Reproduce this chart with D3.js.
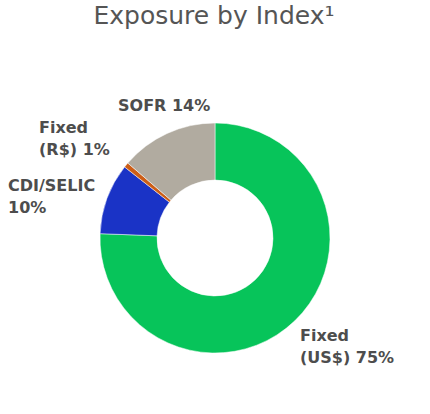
<!DOCTYPE html>
<html>
<head>
<meta charset="utf-8">
<script src="https://cdnjs.cloudflare.com/ajax/libs/d3/7.8.5/d3.min.js"></script>
<style>
body { margin: 0; background: #fff; }
.title { font: 25px "DejaVu Sans", sans-serif; fill: #555; }
.label { font: bold 16px "DejaVu Sans", sans-serif; fill: #4d4d4d; }
</style>
</head>
<body>
<div id="chart"></div>
<script>
// slice data, clockwise from 12 o'clock
var categories = ["Fixed (US$)", "CDI/SELIC", "Fixed (R$)", "SOFR"];
var values     = [75.6, 10.0, 0.7, 13.7];
var labelLines = [["Fixed", "(US$) 75%"], ["CDI/SELIC", "10%"], ["Fixed", "(R$) 1%"], ["SOFR 14%"]];
var colors     = ["#07c45a", "#1a33c6", "#cc5e17", "#b1aba0"];

var width = 430, height = 414;
var cx = 215, cy = 238, outerR = 115, innerR = 58;

var svg = d3.select("#chart").append("svg")
    .attr("width", width)
    .attr("height", height);

svg.append("text")
    .attr("class", "title")
    .attr("x", 214)
    .attr("y", 23.5)
    .attr("text-anchor", "middle")
    .text("Exposure by Index\u00b9");

var pie = d3.pie().sort(null).value(function(d) { return d; });
var arc = d3.arc().innerRadius(innerR).outerRadius(outerR);

var g = svg.append("g").attr("transform", "translate(" + cx + "," + cy + ")");

g.selectAll("path")
    .data(pie(values))
  .enter().append("path")
    .attr("d", arc)
    .attr("fill", function(d, i) { return colors[i]; })
    .attr("stroke", "#fff")
    .attr("stroke-width", 0.5);

// label anchor points (left edge, first baseline)
var labelPos = [[300, 341], [8, 191], [39, 133], [118, 111]];

var labels = svg.selectAll("text.label")
    .data(labelLines)
  .enter().append("text")
    .attr("class", "label")
    .attr("x", function(d, i) { return labelPos[i][0]; })
    .attr("y", function(d, i) { return labelPos[i][1]; });

labels.selectAll("tspan")
    .data(function(d, i) { return d.map(function(t) { return {t: t, x: labelPos[i][0]}; }); })
  .enter().append("tspan")
    .attr("x", function(d) { return d.x; })
    .attr("dy", function(d, j) { return j === 0 ? 0 : 22; })
    .text(function(d) { return d.t; });
</script>
</body>
</html>
